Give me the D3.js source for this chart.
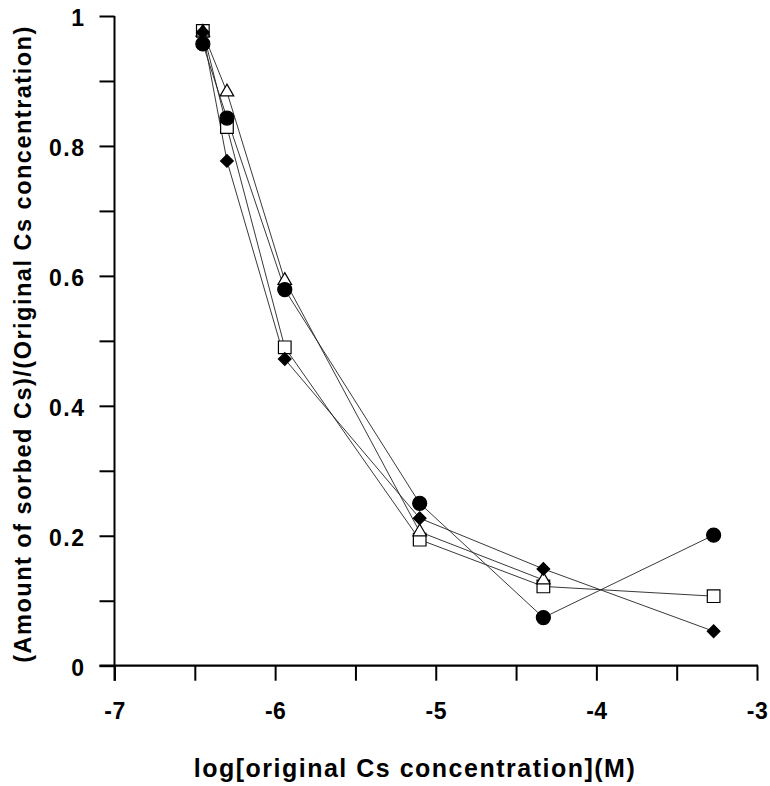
<!DOCTYPE html>
<html>
<head>
<meta charset="utf-8">
<script src="https://cdn.jsdelivr.net/npm/d3@7"></script>
<style>
  body { margin: 0; background: #fff; }
  text { font-family: "Liberation Sans", Arial, sans-serif; font-weight: bold; }
</style>
</head>
<body>
<div id="chart"></div>
<script>
// x positions, log[original Cs concentration](M)
var logConc = [-6.45, -6.30, -5.94, -5.10, -4.33, -3.27];

// sorbed fraction, one array per series
var circles   = [0.957, 0.843, 0.579, 0.250, 0.074, 0.201];
var squares   = [0.977, 0.829, 0.490, 0.194, 0.122, 0.107];
var diamonds  = [0.975, 0.777, 0.472, 0.227, 0.149, 0.053];
var triangles = [0.975, 0.883, 0.593, 0.206, 0.132];

var xTicks = [-7, -6.5, -6, -5.5, -5, -4.5, -4, -3.5, -3];
var xLabels = [-7, -6, -5, -4, -3];
var yTicks = [0, 0.1, 0.2, 0.3, 0.4, 0.5, 0.6, 0.7, 0.8, 0.9, 1];
var yLabels = [0, 0.2, 0.4, 0.6, 0.8, 1];

var dims = {
  width: 770,
  height: 786,
  left: 114.5,
  right: 757,
  top: 16,
  bottom: 665.7,
  tick: 15
};

var svg = d3.select("#chart").append("svg")
  .attr("width", dims.width)
  .attr("height", dims.height);

var x = d3.scaleLinear().domain([-7, -3]).range([dims.left, dims.right]);
var y = d3.scaleLinear().domain([0, 1]).range([dims.bottom, dims.top]);

var isLabel = function(list, v) {
  return list.some(function(l) { return Math.abs(l - v) < 1e-9; });
};

// plain hyphen labels, as in the original
var plain = function(d) { return String(+d.toFixed(1)); };

// y axis
var yAxis = d3.axisLeft(y)
  .tickValues(yTicks)
  .tickSize(dims.tick)
  .tickPadding(14)
  .tickFormat(function(d) { return isLabel(yLabels, d) ? plain(d) : ""; });

var gy = svg.append("g").attr("transform", "translate(" + dims.left + ",0)").call(yAxis);
gy.select(".domain").remove();
gy.selectAll("line").attr("stroke", "#000").attr("stroke-width", 2);
gy.selectAll("text")
  .attr("font-size", 23)
  .attr("letter-spacing", 1.5)
  .attr("dy", "0.42em")
  .attr("fill", "#000");

// x axis
var xAxis = d3.axisBottom(x)
  .tickValues(xTicks)
  .tickSize(dims.tick)
  .tickPadding(22)
  .tickFormat(function(d) { return isLabel(xLabels, d) ? plain(d) : ""; });

var gx = svg.append("g").attr("transform", "translate(0," + dims.bottom + ")").call(xAxis);
gx.select(".domain").remove();
gx.selectAll("line").attr("stroke", "#000").attr("stroke-width", 2);
gx.selectAll("text")
  .attr("font-size", 23)
  .attr("letter-spacing", 0.5)
  .attr("fill", "#000");

// axis lines
svg.append("line")
  .attr("x1", x(-7)).attr("x2", x(-7))
  .attr("y1", y(1)).attr("y2", y(0) + dims.tick)
  .attr("stroke", "#000").attr("stroke-width", 2);
svg.append("line")
  .attr("x1", x(-7) - dims.tick).attr("x2", x(-3) + 1)
  .attr("y1", y(0)).attr("y2", y(0))
  .attr("stroke", "#000").attr("stroke-width", 2.2);

// titles
svg.append("text")
  .attr("x", 415)
  .attr("y", 777)
  .attr("text-anchor", "middle")
  .attr("font-size", 25)
  .attr("letter-spacing", 1.5)
  .text("log[original Cs concentration](M)");

svg.append("text")
  .attr("transform", "translate(31,344) rotate(-90)")
  .attr("text-anchor", "middle")
  .attr("font-size", 23.5)
  .attr("letter-spacing", 1.5)
  .text("(Amount of sorbed Cs)/(Original Cs concentration)");

// series
var series = [
  { values: squares, type: d3.symbolSquare, size: 160, fill: "#fff", rotate: 0 },
  { values: triangles, type: d3.symbolTriangle, size: 80, fill: "#fff", rotate: 0 },
  { values: circles, type: d3.symbolCircle, size: 155, fill: "#000", rotate: 0 },
  { values: diamonds, type: d3.symbolSquare, size: 80, fill: "#000", rotate: 45 }
];

var line = d3.line()
  .x(function(d, i) { return x(logConc[i]); })
  .y(function(d) { return y(d); });

series.forEach(function(s) {
  svg.append("path")
    .attr("d", line(s.values))
    .attr("fill", "none")
    .attr("stroke", "#222")
    .attr("stroke-width", 0.9);
});

series.forEach(function(s) {
  var sym = d3.symbol().type(s.type).size(s.size);
  svg.selectAll(null)
    .data(s.values)
    .enter().append("path")
    .attr("d", sym)
    .attr("transform", function(d, i) {
      return "translate(" + x(logConc[i]) + "," + y(d) + ") rotate(" + s.rotate + ")";
    })
    .attr("fill", s.fill)
    .attr("stroke", "#000")
    .attr("stroke-width", 1.2);
});
</script>
</body>
</html>
